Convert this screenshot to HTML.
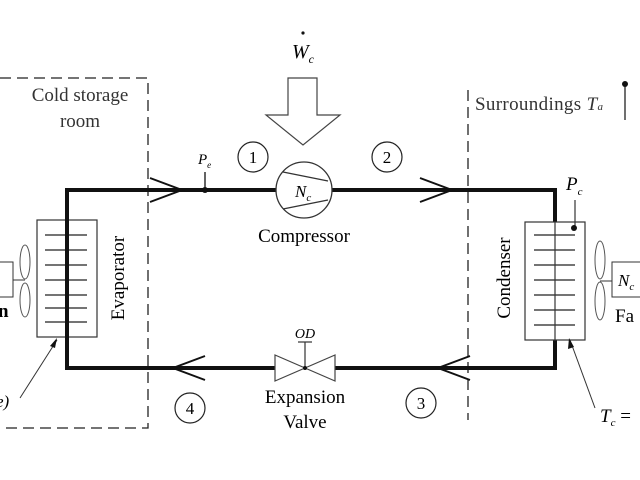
<!DOCTYPE html>
<html><head><style>body{margin:0;background:#fff}svg{display:block}</style></head><body>
<svg width="640" height="480" viewBox="0 0 640 480" font-family="Liberation Serif, serif">
<rect width="640" height="480" fill="#fff"/>
<g fill="none" stroke="#222" stroke-width="1.3" stroke-dasharray="11,6">
<path d="M0,78 H148 V428 H0"/>
<path d="M468,90 V420"/>
</g>
<text x="80" y="101" font-size="19" text-anchor="middle" fill="#333">Cold storage</text>
<text x="80" y="127" font-size="19" text-anchor="middle" fill="#333">room</text>
<text x="475" y="110" font-size="19" fill="#333" textLength="128">Surroundings <tspan font-style="italic">T</tspan><tspan font-size="11" font-style="italic">a</tspan></text>
<line x1="625" y1="84" x2="625" y2="120" stroke="#222" stroke-width="1.3"/><circle cx="625" cy="84" r="3" fill="#111"/>
<g fill="none" stroke="#111" stroke-width="4">
<path d="M276,190 H67 V368 H276"/>
<path d="M332,190 H555 V222"/>
<path d="M555,340 V368 H335"/>
</g>
<g fill="none" stroke="#111" stroke-width="2">
<path d="M150,178 L182,190 L150,202"/>
<path d="M420,178 L452,190 L420,202"/>
<path d="M205,356 L173,368 L205,380"/>
<path d="M470,356 L438,368 L470,380"/>
</g>
<line x1="205" y1="172" x2="205" y2="190" stroke="#111" stroke-width="1.3"/><circle cx="205" cy="190" r="3" fill="#111"/>
<text x="198" y="164" font-size="15" font-style="italic">P<tspan font-size="9" dy="4">e</tspan></text>
<g fill="none" stroke="#222" stroke-width="1.2"><circle cx="253" cy="157" r="15"/><circle cx="387" cy="157" r="15"/><circle cx="190" cy="408" r="15"/><circle cx="421" cy="403" r="15"/></g>
<g font-size="17" text-anchor="middle"><text x="253" y="163">1</text><text x="387" y="163">2</text><text x="190" y="414">4</text><text x="421" y="409">3</text></g>
<path d="M288,78 H317 V115 H340 L303,145 L266,115 H288 Z" fill="#fff" stroke="#444" stroke-width="1.2"/>
<text x="292" y="58" font-size="20" font-style="italic">W<tspan font-size="12" dy="5">c</tspan></text>
<circle cx="303" cy="33" r="1.6" fill="#111"/>
<circle cx="304" cy="190" r="28" fill="#fff" stroke="#333" stroke-width="1.3"/>
<line x1="283" y1="172" x2="328" y2="181" stroke="#333" stroke-width="1.2"/>
<line x1="283" y1="209" x2="328" y2="200" stroke="#333" stroke-width="1.2"/>
<text x="295" y="197" font-size="17" font-style="italic">N<tspan font-size="11" dy="4">c</tspan></text>
<text x="304" y="242" font-size="19" text-anchor="middle">Compressor</text>
<path d="M275,355 V381 L335,355 V381 Z" fill="#fff" stroke="#444" stroke-width="1.2"/>
<line x1="305" y1="342" x2="305" y2="368" stroke="#333" stroke-width="1.2"/><line x1="298" y1="342" x2="312" y2="342" stroke="#333" stroke-width="1.2"/>
<circle cx="305" cy="368" r="2" fill="#111"/>
<text x="305" y="338" font-size="14" font-style="italic" text-anchor="middle">OD</text>
<text x="305" y="403" font-size="19" text-anchor="middle">Expansion</text>
<text x="305" y="428" font-size="19" text-anchor="middle">Valve</text>
<rect x="37" y="220" width="60" height="117" fill="none" stroke="#333" stroke-width="1.2"/>
<g stroke="#222" stroke-width="1.2"><line x1="45" x2="87" y1="235" y2="235"/><line x1="45" x2="87" y1="250" y2="250"/><line x1="45" x2="87" y1="265" y2="265"/><line x1="45" x2="87" y1="280" y2="280"/><line x1="45" x2="87" y1="295" y2="295"/><line x1="45" x2="87" y1="308" y2="308"/><line x1="45" x2="87" y1="322" y2="322"/></g>
<line x1="67" y1="215" x2="67" y2="340" stroke="#111" stroke-width="4"/>
<text transform="translate(124,278) rotate(-90)" font-size="19" text-anchor="middle">Evaporator</text>
<ellipse cx="25" cy="262" rx="5" ry="17" fill="none" stroke="#555"/><ellipse cx="25" cy="300" rx="5" ry="17" fill="none" stroke="#555"/>
<line x1="13" y1="280" x2="25" y2="280" stroke="#333"/>
<rect x="-5" y="262" width="18" height="35" fill="none" stroke="#333"/>
<text x="-2" y="317" font-size="19" font-weight="bold">n</text>
<text x="-4" y="407" font-size="17" font-style="italic">e)</text>
<line x1="20" y1="398" x2="57" y2="340" stroke="#333" stroke-width="1"/><path d="M57,338 L50,346 L55,348 Z" fill="#111"/>
<rect x="525" y="222" width="60" height="118" fill="none" stroke="#333" stroke-width="1.2"/>
<g stroke="#222" stroke-width="1.2"><line x1="534" x2="575" y1="235" y2="235"/><line x1="534" x2="575" y1="250" y2="250"/><line x1="534" x2="575" y1="265" y2="265"/><line x1="534" x2="575" y1="280" y2="280"/><line x1="534" x2="575" y1="295" y2="295"/><line x1="534" x2="575" y1="310" y2="310"/><line x1="534" x2="575" y1="325" y2="325"/></g>
<line x1="555" y1="222" x2="555" y2="340" stroke="#333" stroke-width="1.2"/>
<line x1="575" y1="200" x2="575" y2="228" stroke="#333" stroke-width="1.2"/><circle cx="574" cy="228" r="3" fill="#111"/>
<text x="566" y="190" font-size="19" font-style="italic">P<tspan font-size="11" dy="5">c</tspan></text>
<text transform="translate(510,278) rotate(-90)" font-size="19" text-anchor="middle">Condenser</text>
<ellipse cx="600" cy="260" rx="5" ry="19" fill="none" stroke="#555"/><ellipse cx="600" cy="301" rx="5" ry="19" fill="none" stroke="#555"/>
<line x1="600" y1="281" x2="612" y2="281" stroke="#333"/>
<rect x="612" y="262" width="35" height="35" fill="none" stroke="#333"/>
<text x="618" y="286" font-size="17" font-style="italic">N<tspan font-size="11" dy="4">c</tspan></text>
<text x="615" y="322" font-size="19">Fa</text>
<line x1="595" y1="408" x2="570" y2="340" stroke="#333" stroke-width="1"/><path d="M569,338 L568,349 L574,347 Z" fill="#111"/>
<text x="600" y="422" font-size="19" font-style="italic">T<tspan font-size="11" dy="4">c</tspan><tspan dy="-4" font-style="normal"> =</tspan></text>
</svg>
</body></html>
